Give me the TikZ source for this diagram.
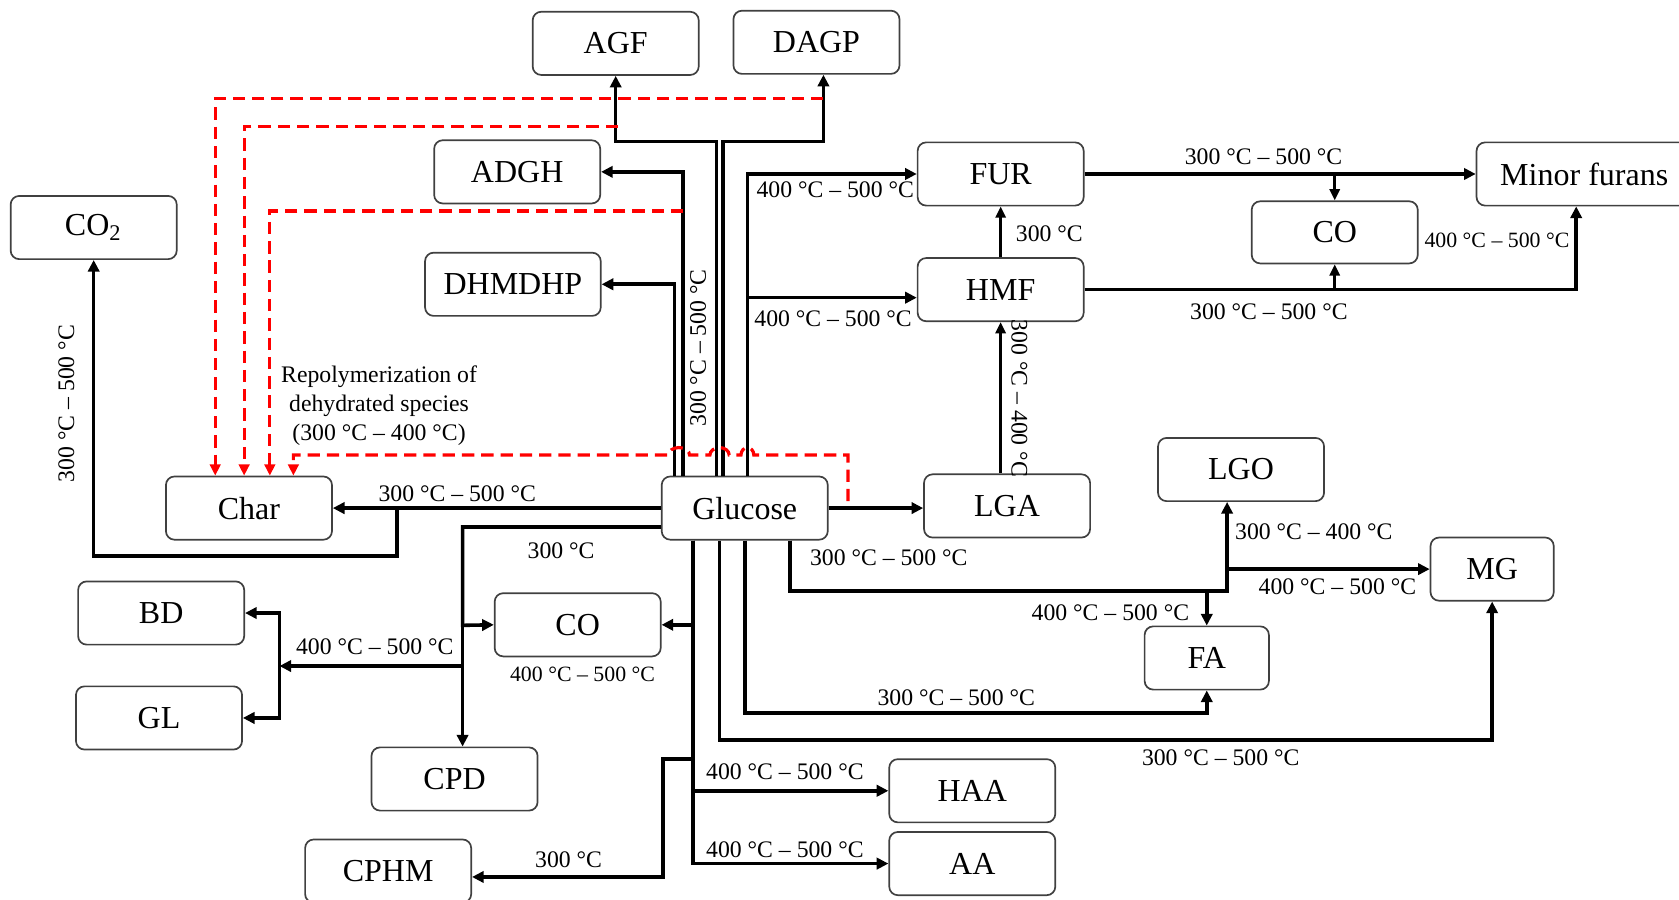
\documentclass[tikz,border=0pt]{standalone}
\usepackage{fontspec}
\setmainfont{Liberation Serif}
\usepackage{tikz}
\usetikzlibrary{arrows.meta}

\newcommand{\rango}[2]{#1 °C – #2 °C}

\begin{document}
\begin{tikzpicture}[x=0.01cm, y=-0.01cm,
  caja/.style={draw=black!75, line width=0.45pt, rounded corners=0.08cm, minimum width=1.55cm, minimum height=0.59cm, inner sep=0pt, font=\fontsize{8.5}{10}\selectfont},
  etq/.style={inner sep=0pt, font=\fontsize{6.3}{7.7}\selectfont},
  etqc/.style={inner sep=0pt, font=\fontsize{5.8}{7}\selectfont},
  flujo/.style={line width=0.95pt, -{Triangle[length=3.1pt,width=3pt]}},
  fino/.style={line width=0.7pt, -{Triangle[length=3pt,width=2.7pt]}},
  rojo/.style={red, line width=0.85pt, dash pattern=on 0.115cm off 0.065cm, -{Triangle[length=3pt,width=2.8pt]}}]
% Marco de la figura (coordenadas en pixeles)
\useasboundingbox (0,0) rectangle (1568,840);
\clip (0,0) rectangle (1568,840);

% Cajas de productos
\node[caja] (agf) at (575,40.5) {AGF};
\node[caja] (dagp) at (762.5,39.5) {DAGP};
\node[caja] (adgh) at (483,160.5) {ADGH};
\node[caja, minimum width=1.64cm] (dhm) at (479,265.5) {DHMDHP};
\node[caja] (co2) at (87.5,212.5) {CO\textsubscript{2}};
\node[caja] (fur) at (934.5,162.5) {FUR};
\node[caja] (hmf) at (934.5,270.5) {HMF};
\node[caja, minimum height=0.58cm] (coa) at (1246.5,217) {CO};
\node[caja, minimum width=2.01cm] (minor) at (1479.5,162.5) {Minor furans};
\node[caja] (char) at (232.5,474.5) {Char};
\node[caja] (glu) at (695.5,474.5) {Glucose};
\node[caja] (lga) at (940.5,472.5) {LGA};
\node[caja] (lgo) at (1159,438.5) {LGO};
\node[caja, minimum width=1.15cm] (mg) at (1393.5,531.5) {MG};
\node[caja, minimum width=1.16cm] (fa) at (1127,614.5) {FA};
\node[caja] (bd) at (150.5,572.5) {BD};
\node[caja] (cob) at (539.5,583.5) {CO};
\node[caja] (gl) at (148.5,670.5) {GL};
\node[caja] (cpd) at (424.5,727.5) {CPD};
\node[caja] (haa) at (908,738.5) {HAA};
\node[caja] (aa) at (908,806.5) {AA};
\node[caja] (cphm) at (362.5,813.5) {CPHM};

% Puntos de union
\coordinate (rA) at (769,92);
\coordinate (rB) at (577,118);
\coordinate (rC) at (638,197);
\coordinate (rD) at (792,468);
\coordinate (nbd) at (261,622);

% Glucosa hacia arriba
\draw[flujo] (glu.north -| 669,0) |- (agf.south |- 0,132) -- (agf.south);
\draw[flujo] (glu.north -| 675,0) |- (769,132) -- (dagp.south -| 769,0);
\draw[flujo] (glu.north -| 638,0) |- (adgh.east);
\draw[flujo] (glu.north -| 630,0) |- (dhm.east);
\draw[flujo] (glu.north -| 698,0) |- (fur.west);
\draw[flujo] (glu.north -| 698,0) |- (hmf.west |- 0,278);

% Furanos
\draw[fino] (lga.north -| hmf.south) -- (hmf.south);
\draw[fino] (hmf.north) -- (fur.south);
\draw[flujo] (fur.east) -- (minor.west);
\draw[fino] (fur.east) -| (coa.north);
\draw[flujo] (hmf.east) -| (minor.south -| 1472,0);
\draw[fino] (hmf.east) -| (coa.south);

% Glucosa hacia la izquierda
\draw[flujo] (glu.west) -- (char.east);
\draw[flujo] (glu.west) -| (371,519) -| (co2.south);
\draw[flujo] (glu.west |- 0,492) -| (cpd.north -| 432,0);
\draw[flujo] (glu.west |- 0,492) -| (432,584) -- (cob.west);
\draw[flujo] (glu.west |- 0,492) -| (432,622) -- (nbd);
\draw[flujo] (nbd) |- (bd.east);
\draw[flujo] (nbd) |- (gl.east);

% Glucosa hacia abajo
\draw[flujo] (glu.east) -- (glu.east -| lga.west);
\draw[flujo] (glu.south -| 647,0) |- (cob.east);
\draw[flujo] (glu.south -| 647,0) |- (haa.west);
\draw[flujo] (glu.south -| 647,0) |- (aa.west);
\draw[flujo] (glu.south -| 647,0) -- (647,709) -| (619,819) -- (cphm.east |- 0,819);
\draw[flujo] (glu.south -| 672,0) |- (mg.south |- 0,691) -- (mg.south);
\draw[flujo] (glu.south -| 696,0) |- (fa.south |- 0,666) -- (fa.south);
\draw[flujo] (glu.south -| 738,0) |- (1146,552) -- (lgo.south -| 1146,0);
\draw[flujo] (glu.south -| 738,0) |- (1146,552) |- (mg.west);
\draw[flujo] (glu.south -| 738,0) |- (fa.north |- 0,552) -- (fa.north);

% Repolimerizacion (rojo)
\draw[rojo] (rA) -| (char.north -| 201,0);
\draw[rojo] (rB) -| (char.north -| 228,0);
\draw[rojo] (rC) -| (char.north -| 252,0);
\draw[rojo] (rD) -- (792,425) -- (704,425)
  arc[start angle=0, end angle=180, x radius=0.06cm, y radius=0.07cm] -- (681,425)
  arc[start angle=0, end angle=180, x radius=0.09cm, y radius=0.07cm] -- (644,425)
  arc[start angle=0, end angle=180, x radius=0.1cm, y radius=0.07cm]
  -| (char.north -| 274,0);

% Etiquetas de temperatura
\node[etq] (tfur) at (780,177) {\rango{400}{500}};
\node[etq] (thmf) at (778,298) {\rango{400}{500}};
\node[etq] (tmin) at (1180,146) {\rango{300}{500}};
\node[etq] (thf) at (980,218) {300 °C};
\node[etqc] (tmin2) at (1398,224) {\rango{400}{500}};
\node[etq] (tmin3) at (1185,291) {\rango{300}{500}};
\node[etq, rotate=-90] (tlga) at (952,372) {\rango{300}{400}};
\node[etq, rotate=90] (tglu) at (652,325) {\rango{300}{500}};
\node[etq, rotate=90] (tco2) at (62,377) {\rango{300}{500}};
\node[etq] (tchar) at (427,461) {\rango{300}{500}};
\node[etq] (tcpd) at (524,514) {300 °C};
\node[etq] (tbd) at (350,604) {\rango{400}{500}};
\node[etqc] (tcob) at (544,630) {\rango{400}{500}};
\node[etq] (tlg) at (830,521) {\rango{300}{500}};
\node[etq] (tlgo) at (1227,497) {\rango{300}{400}};
\node[etq] (tmg) at (1249,548) {\rango{400}{500}};
\node[etq] (tfa) at (1037,572) {\rango{400}{500}};
\node[etq] (tfa2) at (893,652) {\rango{300}{500}};
\node[etq] (tmg2) at (1140,708) {\rango{300}{500}};
\node[etq] (thaa) at (733,721) {\rango{400}{500}};
\node[etq] (taa) at (733,794) {\rango{400}{500}};
\node[etq] (tcphm) at (531,803) {300 °C};
\node[etq, align=center] (trep) at (354,379) {Repolymerization of\\dehydrated species\\(\rango{300}{400})};
\end{tikzpicture}
\end{document}
